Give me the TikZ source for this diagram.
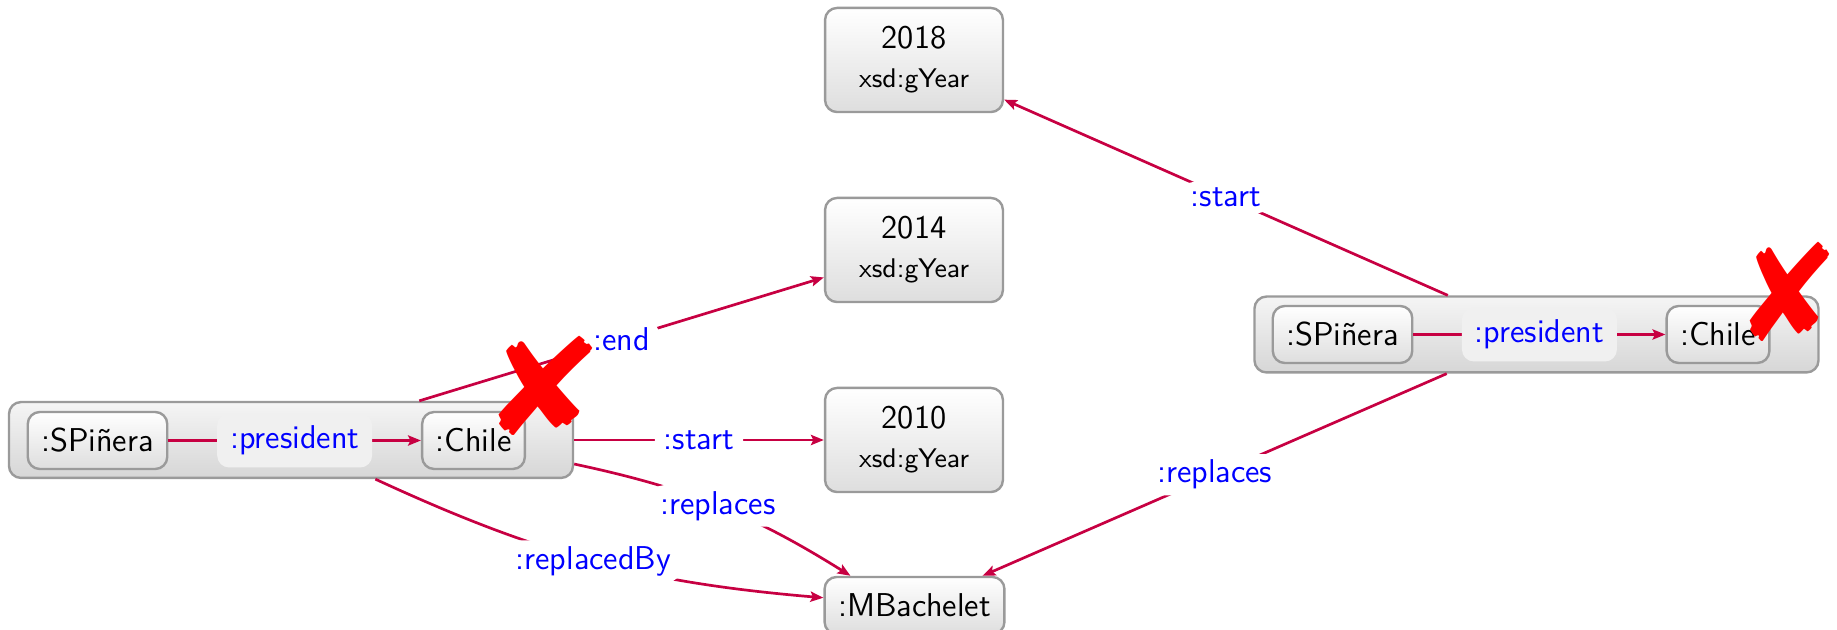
\documentclass[tikz,border=0pt]{standalone}
\usepackage{fontspec}
\usepackage{pifont}
\usetikzlibrary{arrows.meta}
\definecolor{relcol}{RGB}{199,0,66}
\definecolor{boxline}{RGB}{154,154,154}
\begin{document}
\begin{tikzpicture}[x=0.33333pt,y=0.33333pt,
  font=\sffamily\fontsize{11}{13}\selectfont,
  boxbase/.style={draw=boxline, line width=0.8pt, rounded corners=4pt,
    top color=white, bottom color=black!13},
  yearbox/.style={boxbase, minimum width=59.3pt, minimum height=34.7pt,
    align=center, inner sep=0pt},
  resbox/.style={boxbase, minimum height=19pt, inner xsep=4.5pt, inner ysep=0pt},
  groupbox/.style={boxbase, top color=black!4, bottom color=black!16,
    minimum width=188pt, minimum height=25.3pt, inner sep=0pt},
  rel/.style={draw=relcol, line width=0.9pt,
    -{Stealth[length=4.3pt, width=3.4pt, inset=0.8pt]}},
  elabel/.style={text=blue, fill=white, rounded corners=4pt,
    inner xsep=3pt, inner ysep=2pt},
  ilabel/.style={text=blue, fill=black!6, rounded corners=4pt,
    minimum height=18pt, inner xsep=4.3pt},
  xmark/.style={text=red, font=\fontsize{46}{46}\selectfont, inner sep=0pt}
]
\useasboundingbox (0,0) rectangle (1837,-630);

% literal year values
\node[yearbox] (y2018) at (914,-60)  {2018\\{\fontsize{9}{11}\selectfont xsd:gYear}};
\node[yearbox] (y2014) at (914,-250) {2014\\{\fontsize{9}{11}\selectfont xsd:gYear}};
\node[yearbox] (y2010) at (914,-440) {2010\\{\fontsize{9}{11}\selectfont xsd:gYear}};
\node[resbox]  (mb)    at (914.5,-605.5) {:MBachelet};

% left reified statement
\node[groupbox] (L) at (291,-440) {};
\node[resbox] (Lsp) at (97.5,-440.5) {:SPiñera};
\node[resbox] (Lch) at (473.5,-440.5) {:Chile};
\draw[rel] (Lsp) -- node[ilabel] {:president} (Lch);

% right reified statement
\node[groupbox] (R) at (1536.5,-334.5) {};
\node[resbox] (Rsp) at (1342.5,-334.5) {:SPiñera};
\node[resbox] (Rch) at (1718,-334.5) {:Chile};
\draw[rel] (Rsp) -- node[ilabel] {:president} (Rch);

% statement-level relations
\draw[rel] (R) -- node[elabel] {:start} (y2018);
\draw[rel] (R) -- node[elabel] {:replaces} (mb);
\draw[rel] (L) -- node[elabel] {:end} (y2014);
\draw[rel] (L) -- node[elabel] {:start} (y2010);
\draw[rel] (L) to[bend left=10] node[elabel] {:replaces} (mb);
\draw[rel] (L) to[bend right=10] node[elabel] {:replacedBy} (mb);

% crossed-out marks
\node[xmark, xscale=1.12] (xl) at (546,-386) {\ding{56}};
\node[xmark, xscale=0.95] (xr) at (1790,-292) {\ding{56}};
\end{tikzpicture}
\end{document}
